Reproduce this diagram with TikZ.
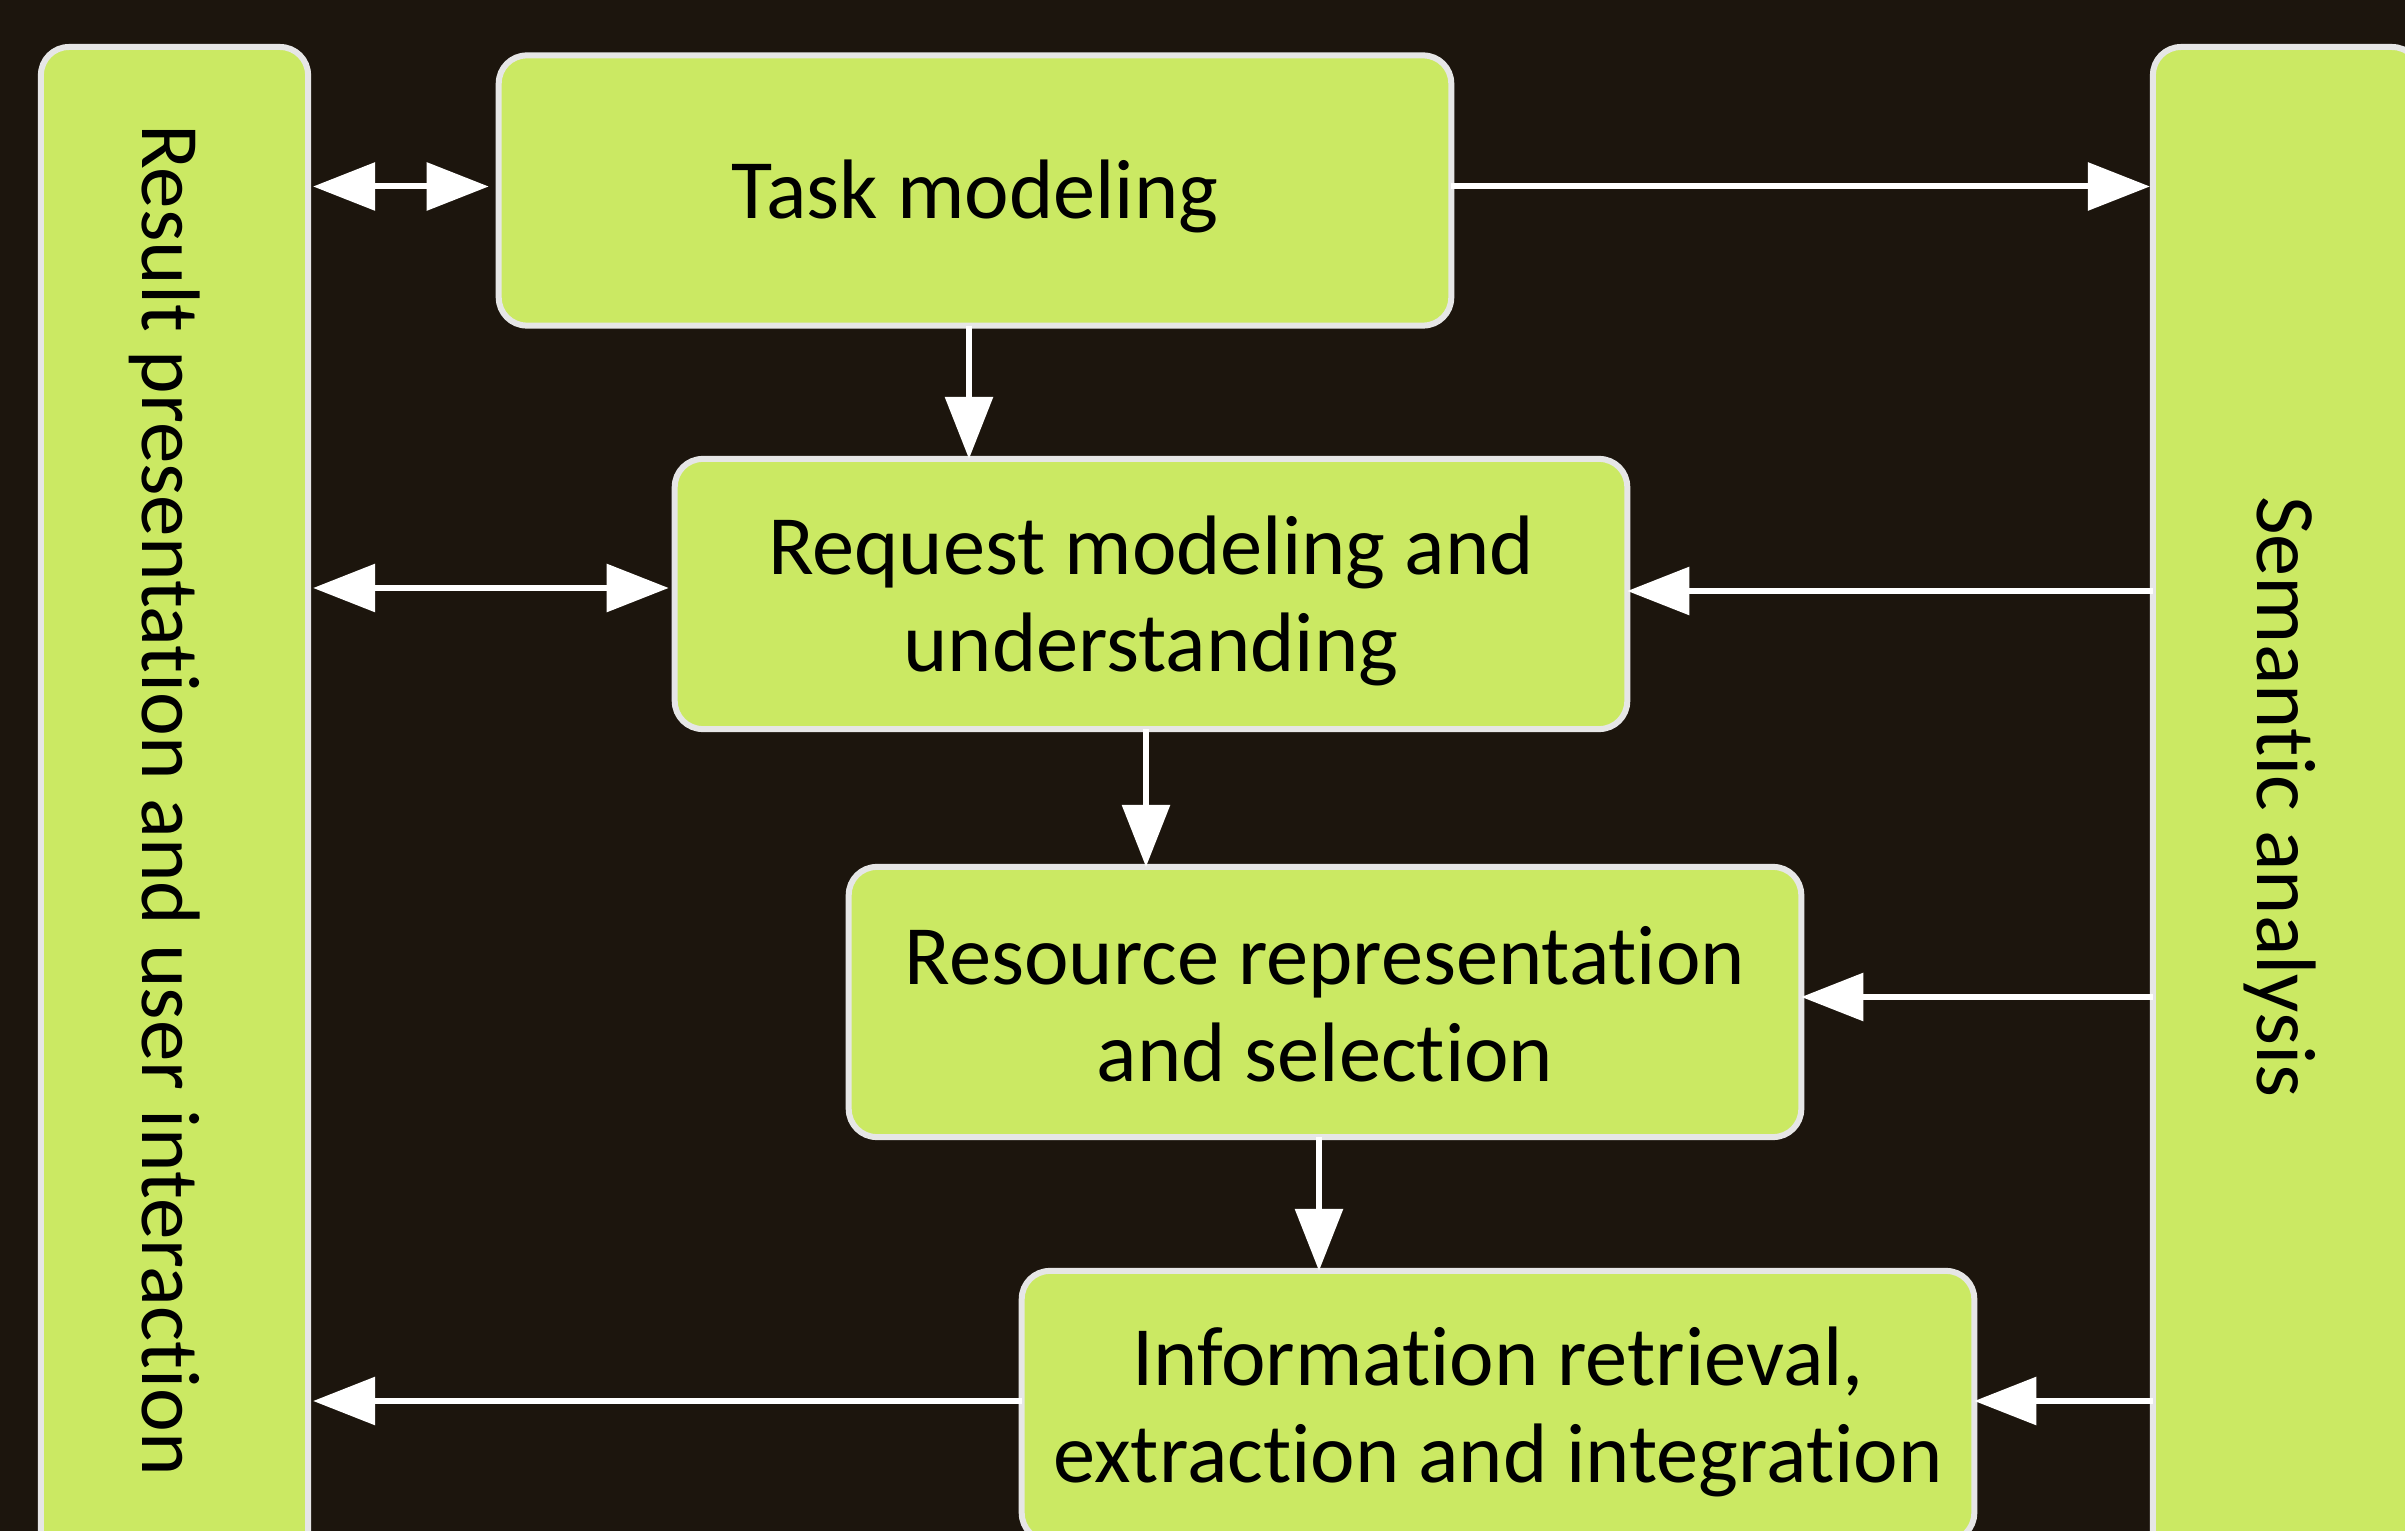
\documentclass[tikz,border=0pt]{standalone}
\usepackage{fontspec}
\setmainfont{Carlito}[Ligatures=NoCommon]
\usetikzlibrary{arrows.meta,calc}
\definecolor{bg}{RGB}{28,21,13}
\definecolor{lime}{RGB}{203,233,99}
\definecolor{rim}{RGB}{230,230,230}
\begin{document}
\begin{tikzpicture}[x=0.01cm,y=-0.01cm,
  box/.style={draw=rim, fill=lime, line width=0.06cm, rounded corners=0.28cm,
    minimum width=9.52cm, minimum height=2.70cm, inner sep=0pt, outer sep=0pt},
  boxtext/.style={align=center, inner sep=0pt, font=\fontsize{24}{27.5}\selectfont, text=black},
  col/.style={draw=rim, fill=lime, line width=0.06cm, rounded corners=0.28cm,
    minimum width=2.67cm, minimum height=16cm, inner sep=0pt, outer sep=0pt, anchor=north},
  coltext/.style={rotate=-90, anchor=base, inner sep=0pt, font=\fontsize{24}{27.5}\selectfont, text=black},
  tip/.tip={Triangle[length=0.62cm,width=0.47cm]},
  link/.style={draw=white, line width=0.06cm, -tip},
  both/.style={draw=white, line width=0.06cm, tip-tip}]
\fill[bg] (0,0) rectangle (2405,1531);
\useasboundingbox (0,0) rectangle (2405,1531);
\clip (0,0) rectangle (2405,1531);
% side columns
\node[col] (L) at (174.5,47) {};
\node[col] (R) at (2286.5,47) {};
\node[coltext, font=\fontsize{23.6}{27.5}\selectfont] (Ltext) at (143,800) {Result presentation and user interaction};
\node[coltext] (Rtext) at (2257,797) {Semantic analysis};
% main boxes
\node[box] (T) at (975,190.5) {};
\node[box] (Q) at (1151,594) {};
\node[box] (S) at (1325,1002) {};
\node[box] (I) at (1498,1406) {};
\node[boxtext] (Tt) at ([yshift=-0.06cm]T.center) {Task modeling};
\node[boxtext] (Qt) at ([yshift=-0.07cm]Q.center) {Request modeling and\\understanding};
\node[boxtext] (St) at ([yshift=-0.02cm]S.center) {Resource representation\\and selection};
\node[boxtext] (It) at ([yshift=-0.06cm]I.center) {Information retrieval,\\extraction and integration};
% arrow levels
\coordinate (t0) at ($(T.west)+(0,-4)$);
\coordinate (t1) at ($(T.east)+(0,-4)$);
\coordinate (q0) at ($(Q.west)+(0,-6)$);
\coordinate (q1) at ($(Q.east)+(0,-3)$);
\coordinate (s1) at ($(S.east)+(0,-5)$);
\coordinate (i0) at ($(I.west)+(0,-5)$);
\coordinate (i1) at ($(I.east)+(0,-5)$);
% connectors
\draw[both, shorten <=0.05cm, shorten >=0.1cm] (L.east |- t0) -- (t0);
\draw[link, shorten >=0.03cm] (t1) -- (t1 -| R.west);
\draw[link] ([xshift=-0.06cm]T.south) -- ([xshift=-0.06cm]T.south |- Q.north);
\draw[both, shorten <=0.05cm, shorten >=0.06cm] (L.east |- q0) -- (q0);
\draw[link] (R.west |- q1) -- (q1);
\draw[link] ([xshift=-0.05cm]Q.south) -- ([xshift=-0.05cm]Q.south |- S.north);
\draw[link] (R.west |- s1) -- (s1);
\draw[link] ([xshift=-0.06cm]S.south) -- ([xshift=-0.06cm]S.south |- I.north);
\draw[link] (R.west |- i1) -- (i1);
\draw[link, shorten >=0.05cm] (i0) -- (i0 -| L.east);
\end{tikzpicture}
\end{document}
